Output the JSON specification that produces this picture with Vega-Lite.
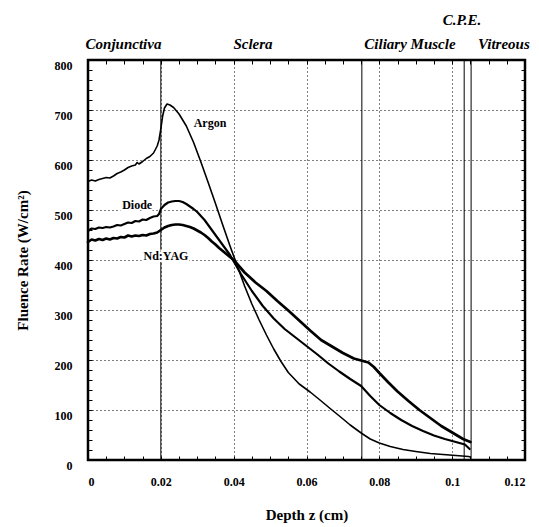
{
  "$schema": "https://vega.github.io/schema/vega-lite/v6.json",
  "width": 437,
  "height": 400,
  "autosize": {"type": "none"},
  "padding": {"left": 88, "top": 60, "right": 14, "bottom": 67},
  "background": "white",
  "config": {
    "font": "Liberation Serif",
    "view": {"stroke": "black", "strokeWidth": 2.5},
    "axis": {
      "domain": false,
      "labelFont": "Liberation Serif",
      "labelFontWeight": "bold",
      "labelFontSize": 12,
      "labelColor": "black",
      "labelOverlap": false,
      "titleFont": "Liberation Serif",
      "titleFontWeight": "bold",
      "titleFontSize": 15,
      "titleColor": "black"
    }
  },
  "datasets": {
    "curves": [
      {"laser": "Argon", "z": 0, "v": 557}, {"laser": "Argon", "z": 0.001, "v": 560}, {"laser": "Argon", "z": 0.002, "v": 558}, {"laser": "Argon", "z": 0.003, "v": 561}, {"laser": "Argon", "z": 0.004, "v": 563}, {"laser": "Argon", "z": 0.005, "v": 565}, {"laser": "Argon", "z": 0.006, "v": 564}, {"laser": "Argon", "z": 0.007, "v": 568}, {"laser": "Argon", "z": 0.008, "v": 573}, {"laser": "Argon", "z": 0.009, "v": 576}, {"laser": "Argon", "z": 0.010, "v": 580}, {"laser": "Argon", "z": 0.011, "v": 585}, {"laser": "Argon", "z": 0.012, "v": 588}, {"laser": "Argon", "z": 0.013, "v": 590}, {"laser": "Argon", "z": 0.0135, "v": 595}, {"laser": "Argon", "z": 0.014, "v": 592}, {"laser": "Argon", "z": 0.015, "v": 597}, {"laser": "Argon", "z": 0.016, "v": 603}, {"laser": "Argon", "z": 0.017, "v": 607}, {"laser": "Argon", "z": 0.018, "v": 614}, {"laser": "Argon", "z": 0.019, "v": 628}, {"laser": "Argon", "z": 0.0195, "v": 640}, {"laser": "Argon", "z": 0.020, "v": 662}, {"laser": "Argon", "z": 0.0205, "v": 688}, {"laser": "Argon", "z": 0.021, "v": 704}, {"laser": "Argon", "z": 0.0217, "v": 712}, {"laser": "Argon", "z": 0.0225, "v": 710}, {"laser": "Argon", "z": 0.0235, "v": 705}, {"laser": "Argon", "z": 0.025, "v": 692}, {"laser": "Argon", "z": 0.027, "v": 668}, {"laser": "Argon", "z": 0.029, "v": 635}, {"laser": "Argon", "z": 0.031, "v": 596}, {"laser": "Argon", "z": 0.033, "v": 555}, {"laser": "Argon", "z": 0.035, "v": 513}, {"laser": "Argon", "z": 0.037, "v": 470}, {"laser": "Argon", "z": 0.039, "v": 428}, {"laser": "Argon", "z": 0.041, "v": 388}, {"laser": "Argon", "z": 0.043, "v": 348}, {"laser": "Argon", "z": 0.045, "v": 312}, {"laser": "Argon", "z": 0.047, "v": 280}, {"laser": "Argon", "z": 0.049, "v": 250}, {"laser": "Argon", "z": 0.051, "v": 222}, {"laser": "Argon", "z": 0.053, "v": 197}, {"laser": "Argon", "z": 0.055, "v": 175}, {"laser": "Argon", "z": 0.058, "v": 152}, {"laser": "Argon", "z": 0.061, "v": 136}, {"laser": "Argon", "z": 0.0637, "v": 120}, {"laser": "Argon", "z": 0.0665, "v": 103}, {"laser": "Argon", "z": 0.0692, "v": 87}, {"laser": "Argon", "z": 0.072, "v": 70}, {"laser": "Argon", "z": 0.0752, "v": 53}, {"laser": "Argon", "z": 0.0775, "v": 42}, {"laser": "Argon", "z": 0.080, "v": 34}, {"laser": "Argon", "z": 0.083, "v": 27}, {"laser": "Argon", "z": 0.0865, "v": 21}, {"laser": "Argon", "z": 0.090, "v": 17}, {"laser": "Argon", "z": 0.094, "v": 13}, {"laser": "Argon", "z": 0.0975, "v": 11}, {"laser": "Argon", "z": 0.101, "v": 9}, {"laser": "Argon", "z": 0.1045, "v": 7}, {"laser": "Argon", "z": 0.105, "v": 6},

      {"laser": "Diode", "z": 0, "v": 458}, {"laser": "Diode", "z": 0.001, "v": 463}, {"laser": "Diode", "z": 0.002, "v": 462}, {"laser": "Diode", "z": 0.003, "v": 465}, {"laser": "Diode", "z": 0.004, "v": 464}, {"laser": "Diode", "z": 0.005, "v": 466}, {"laser": "Diode", "z": 0.006, "v": 465}, {"laser": "Diode", "z": 0.007, "v": 467}, {"laser": "Diode", "z": 0.008, "v": 470}, {"laser": "Diode", "z": 0.009, "v": 469}, {"laser": "Diode", "z": 0.010, "v": 472}, {"laser": "Diode", "z": 0.011, "v": 475}, {"laser": "Diode", "z": 0.012, "v": 474}, {"laser": "Diode", "z": 0.013, "v": 478}, {"laser": "Diode", "z": 0.014, "v": 477}, {"laser": "Diode", "z": 0.015, "v": 481}, {"laser": "Diode", "z": 0.016, "v": 480}, {"laser": "Diode", "z": 0.017, "v": 484}, {"laser": "Diode", "z": 0.018, "v": 487}, {"laser": "Diode", "z": 0.019, "v": 488}, {"laser": "Diode", "z": 0.0195, "v": 492}, {"laser": "Diode", "z": 0.020, "v": 502}, {"laser": "Diode", "z": 0.021, "v": 510}, {"laser": "Diode", "z": 0.022, "v": 515}, {"laser": "Diode", "z": 0.023, "v": 517}, {"laser": "Diode", "z": 0.024, "v": 518}, {"laser": "Diode", "z": 0.025, "v": 518}, {"laser": "Diode", "z": 0.026, "v": 516}, {"laser": "Diode", "z": 0.027, "v": 512}, {"laser": "Diode", "z": 0.028, "v": 507}, {"laser": "Diode", "z": 0.029, "v": 502}, {"laser": "Diode", "z": 0.030, "v": 496}, {"laser": "Diode", "z": 0.031, "v": 488}, {"laser": "Diode", "z": 0.032, "v": 480}, {"laser": "Diode", "z": 0.033, "v": 470}, {"laser": "Diode", "z": 0.034, "v": 460}, {"laser": "Diode", "z": 0.035, "v": 450}, {"laser": "Diode", "z": 0.036, "v": 440}, {"laser": "Diode", "z": 0.037, "v": 430}, {"laser": "Diode", "z": 0.038, "v": 420}, {"laser": "Diode", "z": 0.039, "v": 410}, {"laser": "Diode", "z": 0.042, "v": 372}, {"laser": "Diode", "z": 0.045, "v": 338}, {"laser": "Diode", "z": 0.048, "v": 308}, {"laser": "Diode", "z": 0.051, "v": 283}, {"laser": "Diode", "z": 0.054, "v": 262}, {"laser": "Diode", "z": 0.057, "v": 245}, {"laser": "Diode", "z": 0.060, "v": 228}, {"laser": "Diode", "z": 0.063, "v": 211}, {"laser": "Diode", "z": 0.066, "v": 193}, {"laser": "Diode", "z": 0.069, "v": 177}, {"laser": "Diode", "z": 0.072, "v": 162}, {"laser": "Diode", "z": 0.075, "v": 148}, {"laser": "Diode", "z": 0.0775, "v": 128}, {"laser": "Diode", "z": 0.080, "v": 110}, {"laser": "Diode", "z": 0.083, "v": 94}, {"laser": "Diode", "z": 0.086, "v": 80}, {"laser": "Diode", "z": 0.089, "v": 68}, {"laser": "Diode", "z": 0.092, "v": 58}, {"laser": "Diode", "z": 0.095, "v": 49}, {"laser": "Diode", "z": 0.098, "v": 42}, {"laser": "Diode", "z": 0.101, "v": 36}, {"laser": "Diode", "z": 0.1035, "v": 31}, {"laser": "Diode", "z": 0.1048, "v": 22},

      {"laser": "Nd:YAG", "z": 0, "v": 436}, {"laser": "Nd:YAG", "z": 0.001, "v": 441}, {"laser": "Nd:YAG", "z": 0.002, "v": 439}, {"laser": "Nd:YAG", "z": 0.003, "v": 442}, {"laser": "Nd:YAG", "z": 0.004, "v": 440}, {"laser": "Nd:YAG", "z": 0.005, "v": 443}, {"laser": "Nd:YAG", "z": 0.006, "v": 441}, {"laser": "Nd:YAG", "z": 0.007, "v": 444}, {"laser": "Nd:YAG", "z": 0.008, "v": 443}, {"laser": "Nd:YAG", "z": 0.009, "v": 446}, {"laser": "Nd:YAG", "z": 0.010, "v": 445}, {"laser": "Nd:YAG", "z": 0.011, "v": 449}, {"laser": "Nd:YAG", "z": 0.012, "v": 447}, {"laser": "Nd:YAG", "z": 0.013, "v": 449}, {"laser": "Nd:YAG", "z": 0.014, "v": 448}, {"laser": "Nd:YAG", "z": 0.015, "v": 450}, {"laser": "Nd:YAG", "z": 0.016, "v": 449}, {"laser": "Nd:YAG", "z": 0.017, "v": 452}, {"laser": "Nd:YAG", "z": 0.018, "v": 453}, {"laser": "Nd:YAG", "z": 0.019, "v": 455}, {"laser": "Nd:YAG", "z": 0.020, "v": 460}, {"laser": "Nd:YAG", "z": 0.021, "v": 465}, {"laser": "Nd:YAG", "z": 0.022, "v": 468}, {"laser": "Nd:YAG", "z": 0.023, "v": 470}, {"laser": "Nd:YAG", "z": 0.024, "v": 471}, {"laser": "Nd:YAG", "z": 0.025, "v": 471}, {"laser": "Nd:YAG", "z": 0.026, "v": 470}, {"laser": "Nd:YAG", "z": 0.027, "v": 468}, {"laser": "Nd:YAG", "z": 0.028, "v": 466}, {"laser": "Nd:YAG", "z": 0.029, "v": 463}, {"laser": "Nd:YAG", "z": 0.030, "v": 459}, {"laser": "Nd:YAG", "z": 0.031, "v": 455}, {"laser": "Nd:YAG", "z": 0.032, "v": 450}, {"laser": "Nd:YAG", "z": 0.033, "v": 444}, {"laser": "Nd:YAG", "z": 0.034, "v": 437}, {"laser": "Nd:YAG", "z": 0.035, "v": 431}, {"laser": "Nd:YAG", "z": 0.036, "v": 424}, {"laser": "Nd:YAG", "z": 0.037, "v": 418}, {"laser": "Nd:YAG", "z": 0.038, "v": 412}, {"laser": "Nd:YAG", "z": 0.039, "v": 406}, {"laser": "Nd:YAG", "z": 0.040, "v": 400}, {"laser": "Nd:YAG", "z": 0.043, "v": 375}, {"laser": "Nd:YAG", "z": 0.046, "v": 355}, {"laser": "Nd:YAG", "z": 0.049, "v": 338}, {"laser": "Nd:YAG", "z": 0.052, "v": 318}, {"laser": "Nd:YAG", "z": 0.055, "v": 299}, {"laser": "Nd:YAG", "z": 0.058, "v": 279}, {"laser": "Nd:YAG", "z": 0.061, "v": 259}, {"laser": "Nd:YAG", "z": 0.064, "v": 240}, {"laser": "Nd:YAG", "z": 0.067, "v": 227}, {"laser": "Nd:YAG", "z": 0.070, "v": 214}, {"laser": "Nd:YAG", "z": 0.073, "v": 203}, {"laser": "Nd:YAG", "z": 0.0755, "v": 198}, {"laser": "Nd:YAG", "z": 0.077, "v": 195}, {"laser": "Nd:YAG", "z": 0.0785, "v": 186}, {"laser": "Nd:YAG", "z": 0.080, "v": 174}, {"laser": "Nd:YAG", "z": 0.0825, "v": 155}, {"laser": "Nd:YAG", "z": 0.085, "v": 137}, {"laser": "Nd:YAG", "z": 0.088, "v": 118}, {"laser": "Nd:YAG", "z": 0.091, "v": 100}, {"laser": "Nd:YAG", "z": 0.094, "v": 84}, {"laser": "Nd:YAG", "z": 0.097, "v": 68}, {"laser": "Nd:YAG", "z": 0.100, "v": 55}, {"laser": "Nd:YAG", "z": 0.103, "v": 42}, {"laser": "Nd:YAG", "z": 0.105, "v": 36}
    ],
    "boundaries": [
      {"z": 0.02}, {"z": 0.0752}, {"z": 0.1033}, {"z": 0.1052}
    ],
    "curveLabels": [
      {"label": "Argon", "z": 0.0335, "v": 674},
      {"label": "Diode", "z": 0.0135, "v": 510},
      {"label": "Nd:YAG", "z": 0.0214, "v": 408}
    ],
    "regions": [
      {"name": "Conjunctiva", "z": 0.00975, "v": 833},
      {"name": "Sclera", "z": 0.0453, "v": 833},
      {"name": "Ciliary Muscle", "z": 0.0884, "v": 833},
      {"name": "Vitreous", "z": 0.1142, "v": 833},
      {"name": "C.P.E.", "z": 0.1027, "v": 880}
    ]
  },
  "layer": [
    {
      "data": {"name": "boundaries"},
      "mark": {"type": "rule", "color": "black", "strokeWidth": 1},
      "encoding": {
        "x": {
          "field": "z", "type": "quantitative",
          "scale": {"domain": [0, 0.12], "nice": false, "zero": false},
          "axis": {
            "orient": "bottom",
            "title": "Depth z (cm)",
            "titlePadding": 20,
            "values": [0, 0.005, 0.01, 0.015, 0.02, 0.025, 0.03, 0.035, 0.04, 0.045, 0.05, 0.055, 0.06, 0.065, 0.07, 0.075, 0.08, 0.085, 0.09, 0.095, 0.1, 0.105, 0.11, 0.115, 0.12],
            "labelExpr": "abs(round(datum.value * 1000) % 20) == 0 ? format(datum.value, '~g') : ''",
            "labelPadding": 16,
            "ticks": true,
            "tickSize": 4,
            "tickColor": "black",
            "tickWidth": 1,
            "offset": -4,
            "grid": true,
            "gridColor": "black",
            "gridDash": [1, 3],
            "gridWidth": 1,
            "gridOpacity": {"condition": {"test": "abs(round(datum.value * 1000) % 20) == 0", "value": 1}, "value": 0}
          }
        }
      }
    },
    {
      "data": {"name": "curves"},
      "mark": {"type": "line", "color": "black", "strokeJoin": "round", "strokeCap": "round"},
      "encoding": {
        "x": {"field": "z", "type": "quantitative", "axis": null},
        "y": {
          "field": "v", "type": "quantitative",
          "scale": {"domain": [0, 800], "nice": false, "zero": true},
          "axis": {
            "orient": "left",
            "title": "Fluence Rate (W/cm²)",
            "titlePadding": 24,
            "values": [0, 20, 40, 60, 80, 100, 120, 140, 160, 180, 200, 220, 240, 260, 280, 300, 320, 340, 360, 380, 400, 420, 440, 460, 480, 500, 520, 540, 560, 580, 600, 620, 640, 660, 680, 700, 720, 740, 760, 780, 800],
            "labelExpr": "datum.value % 100 == 0 ? datum.label : ''",
            "labelPadding": 16,
            "labelOffset": 5,
            "ticks": true,
            "tickSize": 4,
            "tickColor": "black",
            "tickWidth": 1,
            "offset": -4,
            "grid": true,
            "gridColor": "black",
            "gridDash": [1, 3],
            "gridWidth": 1,
            "gridOpacity": {"condition": {"test": "datum.value % 100 == 0", "value": 1}, "value": 0}
          }
        },
        "strokeWidth": {
          "field": "laser", "type": "nominal",
          "scale": {"domain": ["Argon", "Diode", "Nd:YAG"], "range": [1.6, 2.7, 3.7]},
          "legend": null
        }
      }
    },
    {
      "data": {"name": "curveLabels"},
      "mark": {"type": "text", "font": "Liberation Serif", "fontWeight": "bold", "fontSize": 12, "color": "white", "stroke": "white", "strokeWidth": 4},
      "encoding": {
        "x": {"field": "z", "type": "quantitative", "axis": null},
        "y": {"field": "v", "type": "quantitative", "axis": null},
        "text": {"field": "label"}
      }
    },
    {
      "data": {"name": "curveLabels"},
      "mark": {"type": "text", "font": "Liberation Serif", "fontWeight": "bold", "fontSize": 12, "color": "black"},
      "encoding": {
        "x": {
          "field": "z", "type": "quantitative",
          "axis": {
            "orient": "top", "title": null, "labels": false, "grid": false,
            "ticks": true, "tickSize": 4, "tickColor": "black", "tickWidth": 1, "offset": -4,
            "values": [0, 0.005, 0.01, 0.015, 0.02, 0.025, 0.03, 0.035, 0.04, 0.045, 0.05, 0.055, 0.06, 0.065, 0.07, 0.075, 0.08, 0.085, 0.09, 0.095, 0.1, 0.105, 0.11, 0.115, 0.12]
          }
        },
        "y": {
          "field": "v", "type": "quantitative",
          "axis": {
            "orient": "right", "title": null, "labels": false, "grid": false,
            "ticks": true, "tickSize": 4, "tickColor": "black", "tickWidth": 1, "offset": -4,
            "values": [0, 20, 40, 60, 80, 100, 120, 140, 160, 180, 200, 220, 240, 260, 280, 300, 320, 340, 360, 380, 400, 420, 440, 460, 480, 500, 520, 540, 560, 580, 600, 620, 640, 660, 680, 700, 720, 740, 760, 780, 800]
          }
        },
        "text": {"field": "label"}
      }
    },
    {
      "data": {"name": "regions"},
      "mark": {"type": "text", "font": "Liberation Serif", "fontWeight": "bold", "fontStyle": "italic", "fontSize": 15, "color": "black"},
      "encoding": {
        "x": {"field": "z", "type": "quantitative", "axis": null},
        "y": {"field": "v", "type": "quantitative", "axis": null},
        "text": {"field": "name"}
      }
    }
  ],
  "resolve": {"axis": {"x": "independent", "y": "independent"}}
}
